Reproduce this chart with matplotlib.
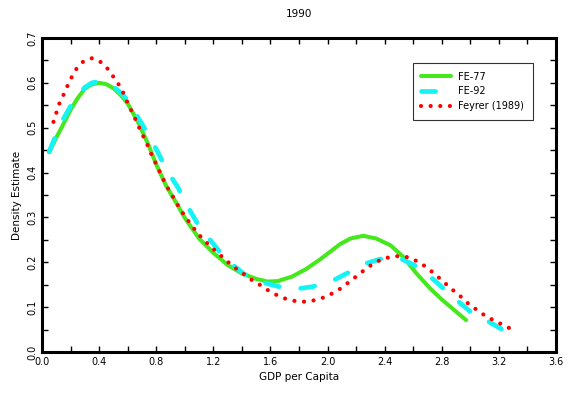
import matplotlib
matplotlib.use("Agg")
import matplotlib.pyplot as plt
from matplotlib.ticker import MultipleLocator

plt.rcParams['font.family'] = ['DejaVu Sans']

# FE-77 (green, solid)
x_fe77 = [0.05, 0.1, 0.14, 0.2, 0.25, 0.3, 0.35, 0.4, 0.45, 0.5, 0.55, 0.6, 0.68, 0.75, 0.8, 0.87,
          0.95, 1.0, 1.1, 1.2, 1.3, 1.4, 1.5, 1.58, 1.65, 1.75, 1.85, 1.95, 2.02, 2.09, 2.16, 2.25,
          2.34, 2.44, 2.53, 2.62, 2.72, 2.8, 2.9, 2.97]
y_fe77 = [0.445, 0.478, 0.502, 0.540, 0.566, 0.587, 0.597, 0.600, 0.597, 0.588, 0.573, 0.554, 0.508, 0.458, 0.418, 0.370,
          0.327, 0.299, 0.253, 0.221, 0.194, 0.175, 0.163, 0.157, 0.158, 0.168, 0.185, 0.207, 0.224, 0.241, 0.253, 0.259,
          0.253, 0.238, 0.212, 0.176, 0.141, 0.117, 0.090, 0.071]

# FE-92 (cyan, dashed)
x_fe92 = [0.05, 0.1, 0.15, 0.2, 0.25, 0.3, 0.35, 0.4, 0.45, 0.5, 0.55, 0.6, 0.67, 0.745, 0.815, 0.873,
          0.955, 1.013, 1.095, 1.177, 1.28, 1.41, 1.527, 1.655, 1.77, 1.9, 2.03, 2.145, 2.274, 2.39,
          2.52, 2.65, 2.765, 2.88, 3.0, 3.126, 3.23]
y_fe92 = [0.447, 0.485, 0.520, 0.548, 0.572, 0.590, 0.600, 0.603, 0.600, 0.592, 0.578, 0.561, 0.524, 0.484, 0.443, 0.406,
          0.365, 0.328, 0.283, 0.250, 0.209, 0.175, 0.157, 0.146, 0.140, 0.146, 0.158, 0.177, 0.198, 0.209,
          0.207, 0.187, 0.155, 0.122, 0.090, 0.068, 0.049]

# Feyrer (1989) (red, dotted)
x_feyrer = [0.08, 0.10, 0.12, 0.147, 0.175, 0.203, 0.238, 0.287, 0.35, 0.413, 0.467, 0.509, 0.549, 0.579,
            0.605, 0.635, 0.663, 0.69, 0.72, 0.747, 0.773, 0.803, 0.831, 0.861, 0.896, 0.931, 0.966,
            1.009, 1.055, 1.10, 1.158, 1.219, 1.277, 1.333, 1.396, 1.457, 1.52, 1.581, 1.644, 1.704,
            1.767, 1.828, 1.889, 1.952, 2.012, 2.075, 2.138, 2.199, 2.258, 2.32, 2.381, 2.442, 2.503,
            2.566, 2.629, 2.689, 2.75, 2.806, 2.87, 2.928, 2.988, 3.045, 3.107, 3.168, 3.23, 3.294]
y_feyrer = [0.513, 0.533, 0.553, 0.571, 0.591, 0.610, 0.630, 0.647, 0.655, 0.646, 0.629, 0.609, 0.591, 0.571,
            0.551, 0.532, 0.513, 0.493, 0.474, 0.456, 0.435, 0.417, 0.397, 0.377, 0.357, 0.339, 0.319,
            0.299, 0.279, 0.261, 0.242, 0.224, 0.208, 0.192, 0.178, 0.163, 0.151, 0.138, 0.127, 0.119,
            0.114, 0.112, 0.114, 0.119, 0.127, 0.138, 0.153, 0.168, 0.183, 0.197, 0.207, 0.212, 0.214,
            0.211, 0.202, 0.190, 0.174, 0.158, 0.140, 0.125, 0.107, 0.094, 0.080, 0.070, 0.060, 0.050]

fig = plt.figure(figsize=(5.71, 3.94), dpi=100)
ax = fig.add_axes([0.0736, 0.1066, 0.9002, 0.797])

ax.plot(x_fe77, y_fe77, color='#44e81c', lw=2.9, label='FE-77', solid_capstyle='round')
ax.plot(x_fe92, y_fe92, color='#14f4f4', lw=3.4, label='FE-92',
        linestyle=(0, (3.0, 4.6)), dash_capstyle='round')
ax.plot(x_feyrer, y_feyrer, color='#ff0000', lw=3.0, label='Feyrer (1989)',
        linestyle=(0, (0.01, 2.3)), dash_capstyle='round')

ax.set_xlim(0, 3.6)
ax.set_ylim(0, 0.7)
ax.xaxis.set_major_locator(MultipleLocator(0.4))
ax.xaxis.set_minor_locator(MultipleLocator(0.2))
ax.yaxis.set_major_locator(MultipleLocator(0.1))
ax.yaxis.set_minor_locator(MultipleLocator(0.05))
ax.xaxis.set_major_formatter(plt.FormatStrFormatter('%.1f'))
ax.yaxis.set_major_formatter(plt.FormatStrFormatter('%.1f'))
ax.tick_params(which='both', direction='in', top=True, right=True, length=4, width=1, labelsize=7)
ax.tick_params(axis='y', labelrotation=90)
for lab in ax.get_yticklabels():
    lab.set_va('center')
for s in ax.spines.values():
    s.set_linewidth(2.2)

ax.set_title('1990', fontsize=7.5, pad=15)
ax.set_xlabel('GDP per Capita', fontsize=7.5)
ax.set_ylabel('Density Estimate', fontsize=7.5)

leg = ax.legend(loc='upper left', bbox_to_anchor=(0.721, 0.921), borderaxespad=0,
                fancybox=False, edgecolor='black', fontsize=7, handlelength=3.0,
                labelspacing=0.5, borderpad=0.9)
leg.get_frame().set_linewidth(0.8)

fig.savefig('out.png', dpi=100)
